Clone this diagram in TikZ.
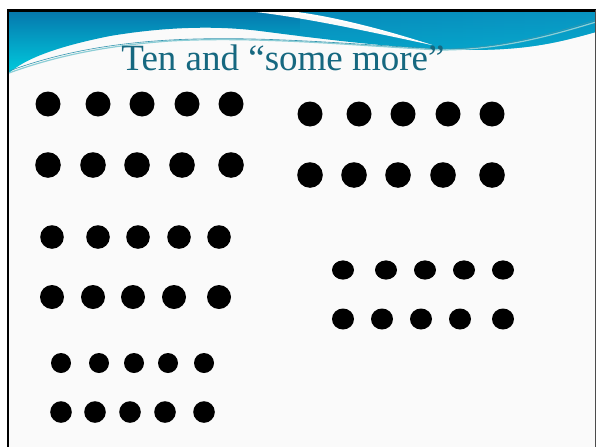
\documentclass[tikz,border=0pt]{standalone}
\usepackage{fontspec}
\setmainfont{Liberation Serif}
\usepackage{xcolor}
\usetikzlibrary{calc}
\definecolor{slidebg}{RGB}{250,250,250}
\definecolor{wavetop}{RGB}{6,118,172}
\definecolor{wavebot}{RGB}{0,204,222}
\definecolor{waveright}{RGB}{10,166,206}
\definecolor{titleteal}{RGB}{22,104,128}
\definecolor{linelight}{RGB}{140,206,214}
\definecolor{linedark}{RGB}{52,150,176}
\tikzset{
  bigdot/.style={fill=black},
  slidetitle/.style={font=\fontsize{37}{40}\selectfont, text=titleteal, anchor=base, inner sep=0pt}
}
\begin{document}
\begin{tikzpicture}[x=1pt, y=-1pt]
      \useasboundingbox (0,0) rectangle (596,447);
      % Slide background
      \fill[white] (0,0) rectangle (596,447);
      \fill[slidebg] (8,10) rectangle (595,447);

      % Blue wave banner
      \shade[top color=wavetop, bottom color=wavebot]
        (8,10) -- (596,10) -- (596,32)
        .. controls (560,42) and (530,50) .. (470,50)
        .. controls (400,49) and (330,40) .. (260,31)
        .. controls (220,26) and (170,26) .. (110,36)
        .. controls (60,46) and (25,58) .. (8,74) -- cycle;
      \shade[left color=waveright!70!wavetop, right color=waveright, opacity=0.6]
        (300,10) -- (596,10) -- (596,32)
        .. controls (560,42) and (530,50) .. (470,50)
        .. controls (420,49) and (360,42) .. (300,36) -- cycle;

      % White swoosh
      \fill[white]
        (238,10) .. controls (300,14) and (380,32) .. (432,45)
        .. controls (380,28) and (310,10) .. (270,10) -- cycle;
      \fill[slidebg]
        (238,10) .. controls (300,16) and (370,32) .. (432,45)
        .. controls (360,24) and (300,12) .. (250,10) -- cycle;

      % Thin lines under the wave
      \draw[linelight, line width=1.2pt]
        (9,73) .. controls (50,58) and (100,46) .. (170,41)
        .. controls (260,36) and (360,46) .. (440,50)
        .. controls (500,50) and (550,36) .. (596,22);
      \draw[linedark, line width=0.6pt]
        (9,71) .. controls (50,56) and (100,44) .. (170,40)
        .. controls (260,35) and (360,45) .. (440,49)
        .. controls (500,49) and (550,34) .. (596,20);

      % Frame
      \draw[black, line width=3pt] (7,10.5) -- (596,10.5);
      \draw[black, line width=2.5pt] (8,9) -- (8,447);
      \draw[black!70, line width=1pt] (595,10) -- (595,447);

      % Title
      \node[slidetitle] (title) at (283,70) {Ten and “some more”};

      % Ten: first group
      \foreach \x in {48,98,142,187,231} \fill[bigdot] (\x,104) circle (12.5);
      \foreach \x in {48,93,137,182,231} \fill[bigdot] (\x,165) circle (12.8);

      % Ten: second group
      \foreach \x in {52,98,138,179,219} \fill[bigdot] (\x,237) circle (11.8);
      \foreach \x in {52,93,133,174,219} \fill[bigdot] (\x,297) circle (12);

      % Ten: third group
      \foreach \x in {61,99,134,168,204} \fill[bigdot] (\x,363) circle (10);
      \foreach \x in {61,95,130,165,204} \fill[bigdot] (\x,412) circle (10.8);

      % Ten: right top group
      \foreach \x in {310,359,403,448,492} \fill[bigdot] (\x,114) circle (12.5);
      \foreach \x in {310,354,398,443,492} \fill[bigdot] (\x,175) circle (12.8);

      % Ten: right bottom group (slightly flat)
      \foreach \x in {343,386,425,464,503} \fill[bigdot] (\x,270) circle[x radius=11, y radius=9.6];
      \foreach \x in {343,382,421,460,503} \fill[bigdot] (\x,319) circle[x radius=11, y radius=10.5];
    \end{tikzpicture}
\end{document}
